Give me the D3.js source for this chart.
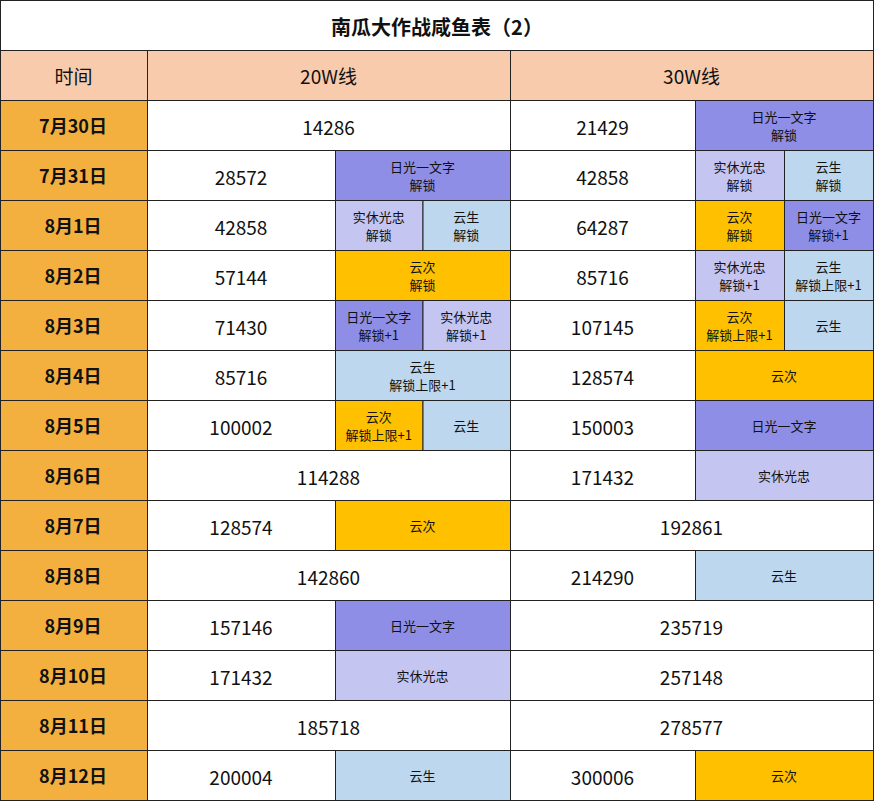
<!DOCTYPE html>
<html><head><meta charset="utf-8">
<script src="https://cdn.jsdelivr.net/npm/d3@7"></script>
<style>body{margin:0;background:#fff}</style>
</head><body><div id="chart"></div>
<script>
const title = "南瓜大作战咸鱼表（2）";
const headers = ["时间", "20W线", "30W线"];
const dates = ["7月30日","7月31日","8月1日","8月2日","8月3日","8月4日","8月5日","8月6日","8月7日","8月8日","8月9日","8月10日","8月11日","8月12日"];
const v20 = [14286,28572,42858,57144,71430,85716,100002,114288,128574,142860,157146,171432,185718,200004];
const v30 = [21429,42858,64287,85716,107145,128574,150003,171432,192861,214290,235719,257148,278577,300006];
// tag cells: [sword, second line]
const tags20 = [
  [], [["日光一文字","解锁"]], [["实休光忠","解锁"],["云生","解锁"]], [["云次","解锁"]],
  [["日光一文字","解锁+1"],["实休光忠","解锁+1"]], [["云生","解锁上限+1"]],
  [["云次","解锁上限+1"],["云生",""]], [], [["云次",""]], [], [["日光一文字",""]],
  [["实休光忠",""]], [], [["云生",""]]
];
const tags30 = [
  [["日光一文字","解锁"]], [["实休光忠","解锁"],["云生","解锁"]], [["云次","解锁"],["日光一文字","解锁+1"]],
  [["实休光忠","解锁+1"],["云生","解锁上限+1"]], [["云次","解锁上限+1"],["云生",""]], [["云次",""]],
  [["日光一文字",""]], [["实休光忠",""]], [], [["云生",""]], [], [], [], [["云次",""]]
];
const tagColor = {"日光一文字":"#8e8ee6","实休光忠":"#c5c5f2","云生":"#bdd7ee","云次":"#ffc000"};

const W = 874, H = 802;
const svg = d3.select("#chart").append("svg").attr("width", W).attr("height", H)
  .style("font-family", "'Noto Sans CJK SC', sans-serif");
const y = d3.scaleBand().domain(d3.range(-1, dates.length)).range([50, 800]);
const col = {time:[0,147], g20:[147,510], n20:[147,335], t20:[335,510], g30:[510,873], n30:[510,695], t30:[695,873]};

function cell(x0, x1, y0, h, fill) {
  svg.append("rect").attr("x", x0 + 0.5).attr("y", y0 + 0.5).attr("width", x1 - x0).attr("height", h)
    .attr("fill", fill).attr("stroke", "#222").attr("stroke-width", 1);
}
function txt(x, yy, s, size, weight) {
  svg.append("text").attr("x", x).attr("y", yy).attr("text-anchor", "middle")
    .attr("dominant-baseline", "central").attr("font-size", size).attr("font-weight", weight || "normal")
    .attr("fill", "#111").text(s);
}

// title
cell(0, 873, 0, 50, "#fff");
txt(W / 2, 26, title, 20, "bold");
// header
const hy = y(-1), h = y.bandwidth();
[[col.time, headers[0]], [col.g20, headers[1]], [col.g30, headers[2]]].forEach(([c, s]) => {
  cell(c[0], c[1], hy, h, "#f8cbad");
  txt((c[0] + c[1]) / 2, hy + h / 2, s, 19);
});

function group(vals, tags, full, num, tagc, i) {
  const yy = y(i), t = tags[i];
  const c = t.length ? num : full;
  cell(c[0], c[1], yy, h, "#fff");
  txt((c[0] + c[1]) / 2, yy + h / 2 + 1, vals[i], 19);
  if (!t.length) return;
  const x = d3.scaleBand().domain(d3.range(t.length)).range(tagc);
  t.forEach(([name, note], k) => {
    const x0 = x(k), x1 = x0 + x.bandwidth();
    cell(x0, x1, yy, h, tagColor[name]);
    if (note) {
      txt((x0 + x1) / 2, yy + 16, name, 13);
      txt((x0 + x1) / 2, yy + 34, note, 13);
    } else txt((x0 + x1) / 2, yy + h / 2, name, 13);
  });
}

dates.forEach((d, i) => {
  cell(col.time[0], col.time[1], y(i), h, "#f4b03e");
  txt(73, y(i) + h / 2, d, 18, "bold");
  group(v20, tags20, col.g20, col.n20, col.t20, i);
  group(v30, tags30, col.g30, col.n30, col.t30, i);
});
</script></body></html>
